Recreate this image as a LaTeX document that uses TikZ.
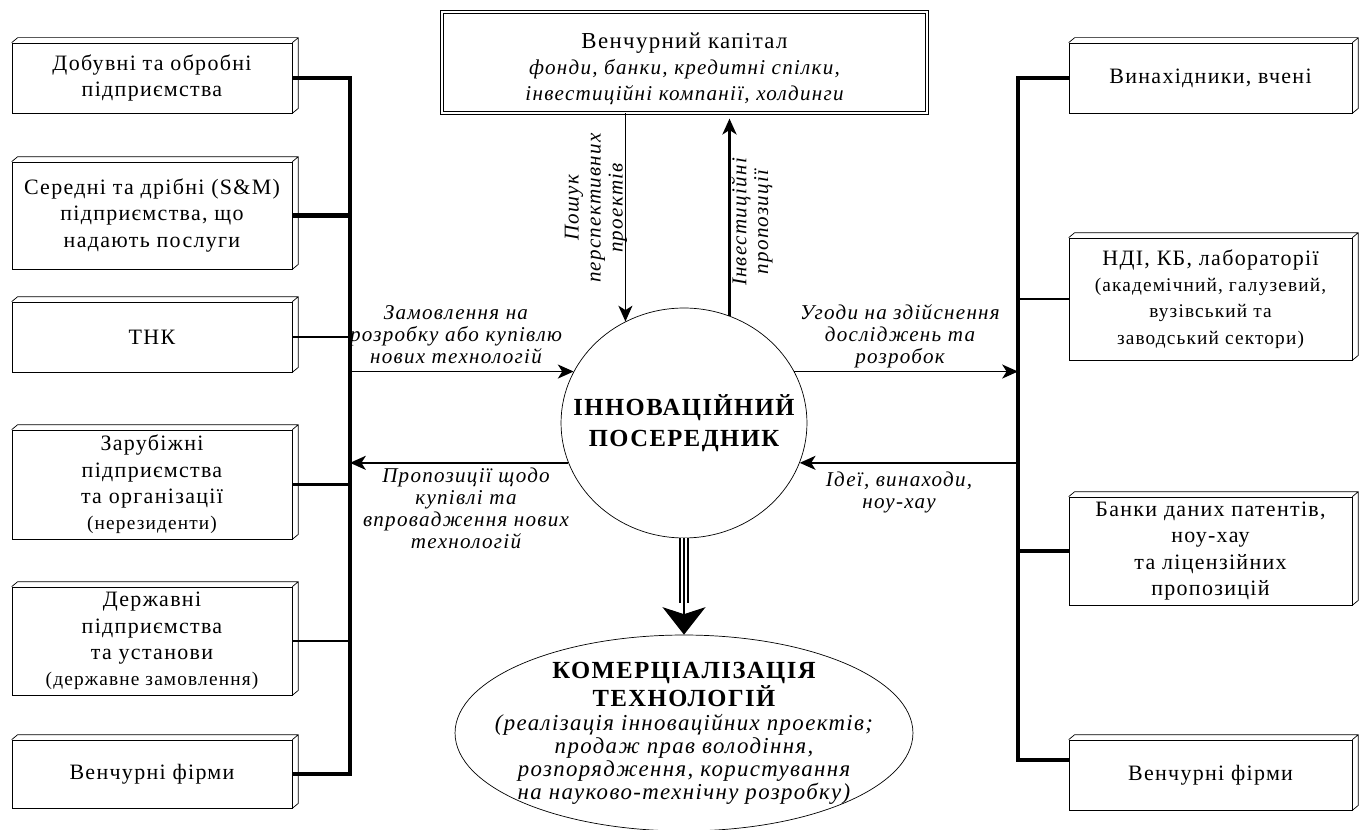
\documentclass[tikz,border=0pt]{standalone}
\usepackage{fontspec}
\setmainfont{Liberation Serif}[LetterSpace=6]
\usetikzlibrary{shapes.geometric,arrows.meta}

\begin{document}
\begin{tikzpicture}[x=0.02cm, y=-0.02cm,
	slab/.style={draw, thin, fill=white, minimum width=5.6cm, inner sep=2pt, align=center,
		font=\fontsize{12.5}{15}\selectfont,
		append after command={\pgfextra{\let\slabnode\tikzlastnode
			\draw[thin] (\slabnode.north west) -- ++(6,-5) -- ([shift={(6,-5)}]\slabnode.north east)
				-- ([shift={(6,-5)}]\slabnode.south east) -- (\slabnode.south east)
				(\slabnode.north east) -- ++(6,-5);}}},
	bus/.style={line width=2.8pt},
	linkm/.style={line width=1.6pt},
	flow/.style={-{Stealth[length=9pt,width=8pt,inset=2.5pt]}, line width=0.9pt},
	lbl/.style={align=center, font=\fontsize{12}{12.5}\selectfont\itshape}]
			
			\useasboundingbox (0,0) rectangle (1363,830);
			
			\coordinate (lbus) at (350,0);
			\coordinate (rbus) at (1018,0);
			
			% left column
			\node (l1) [slab, minimum height=1.4cm] at (152,78) {Добувні та обробні\\підприємства};
			\node (l2) [slab, minimum height=2.14cm] at (152,215.5) {Середні та дрібні (S\&M)\\підприємства, що\\надають послуги};
			\node (l3) [slab, minimum height=1.4cm] at (152,337) {ТНК};
			\node (l4) [slab, minimum height=2.18cm] at (152,484.5) {Зарубіжні\\підприємства\\та організації\\{\fontsize{11}{13}\selectfont(нерезиденти)}};
			\node (l5) [slab, minimum height=2.16cm] at (152,641) {Державні\\підприємства\\та установи\\{\fontsize{11}{13}\selectfont(державне замовлення)}};
			\node (l6) [slab, minimum height=1.36cm] at (152,774) {Венчурні фірми};
			
			% right column
			\node (r1) [slab, minimum width=5.66cm, minimum height=1.4cm] at (1210.5,78) {Винахідники, вчені};
			\node (r2) [slab, minimum width=5.66cm, minimum height=2.44cm] at (1210.5,299) {НДІ, КБ, лабораторії\\{\fontsize{11}{14}\selectfont(академічний, галузевий,}\\{\fontsize{11}{14}\selectfont вузівський та}\\{\fontsize{11}{14}\selectfont заводський сектори)}};
			\node (r3) [slab, minimum width=5.66cm, minimum height=2.16cm] at (1210.5,551) {Банки даних патентів,\\ноу-хау\\та ліцензійних\\пропозицій};
			\node (r4) [slab, minimum width=5.66cm, minimum height=1.4cm] at (1210.5,775) {Венчурні фірми};
			
			% centre
			\node (vc) [draw, thin, double, double distance=1.6pt, minimum width=9.7cm, minimum height=2.02cm, align=center, font=\fontsize{13}{15}\selectfont] at (684.5,62.5) {\rule{0pt}{16pt}Венчурний капітал\\{\itshape\fontsize{12}{13}\selectfont фонди, банки, кредитні спілки,}\\{\itshape\fontsize{12}{13}\selectfont інвестиційні компанії, холдинги}};
			\node (hub) [ellipse, draw, thin, minimum width=4.92cm, minimum height=4.6cm, inner xsep=-0.8cm, inner ysep=0pt, align=center, font=\bfseries\fontsize{14}{18}\selectfont] at (684,423) {ІННОВАЦІЙНИЙ\\ПОСЕРЕДНИК};
			\node (com) [ellipse, draw, thin, minimum width=9.16cm, minimum height=3.92cm, inner xsep=-1.2cm, inner ysep=-0.2cm, align=center, font=\itshape\fontsize{13}{13}\selectfont] at (684,733) {{\upshape\bfseries\fontsize{14}{16}\selectfont КОМЕРЦІАЛІЗАЦІЯ}\\{\upshape\bfseries\fontsize{14}{16}\selectfont ТЕХНОЛОГІЙ}\\[1pt](реалізація інноваційних проектів;\\продаж прав володіння,\\розпорядження, користування\\на науково-технічну розробку)};
			
			% labels
			\node (lab1) [lbl] at (456,335) {Замовлення на\\розробку або купівлю\\нових технологій};
			\node (lab2) [lbl] at (466,508) {Пропозиції щодо\\купівлі та\\впровадження нових\\технологій};
			\node (lab3) [lbl] at (900,336) {Угоди на здійснення\\досліджень та\\розробок};
			\node (lab4) [lbl] at (899,492) {Ідеї, винаходи,\\ноу-хау};
			\node (lab5) [lbl, rotate=90] at (596,208) {Пошук\\перспективних\\проектів};
			\node (lab6) [lbl, rotate=90] at (752,222) {Інвестиційні\\пропозиції};
			
			% buses
			\draw [bus] (l1.east) -| (l6.east -| lbus) -- (l6.east);
			\draw [bus] (l2.east) -- (l2.east -| lbus);
			\draw [linkm] (l3.east) -- (l3.east -| lbus);
			\draw [linkm] (l4.east) -- (l4.east -| lbus);
			\draw [linkm] (l5.east) -- (l5.east -| lbus);
			
			\draw [bus] (r1.west) -| ([yshift=0.3cm]r4.west -| rbus) -- ([yshift=0.3cm]r4.west);
			\draw [linkm] (r2.west) -- (r2.west -| rbus);
			\draw [bus] (r3.west) -- (r3.west -| rbus);
			
			% flows
			\draw [flow] (hub.155 -| lbus) -- (hub.155);
			\draw [flow] (hub.199) -- (hub.199 -| lbus);
			\draw [flow] (hub.25) -- (hub.25 -| rbus);
			\draw [flow] (hub.341 -| rbus) -- (hub.341);
			\draw [flow] (vc.south -| hub.120) -- (hub.120);
			\draw [flow, line width=1.6pt] (hub.67) -- ([yshift=-3pt]hub.67 |- vc.south);
			
			\coordinate (tipbase) at (684,603);
			\draw [double, double distance=3.6pt, line width=1pt] (hub.south) -- (tipbase);
			\draw [line width=0.6pt] (hub.south) -- (tipbase);
			\draw [-{Stealth[length=0.55cm,width=0.86cm,inset=0.14cm]}, line width=0.6pt] (tipbase) -- (com.north);
			
			\end{tikzpicture}
\end{document}
